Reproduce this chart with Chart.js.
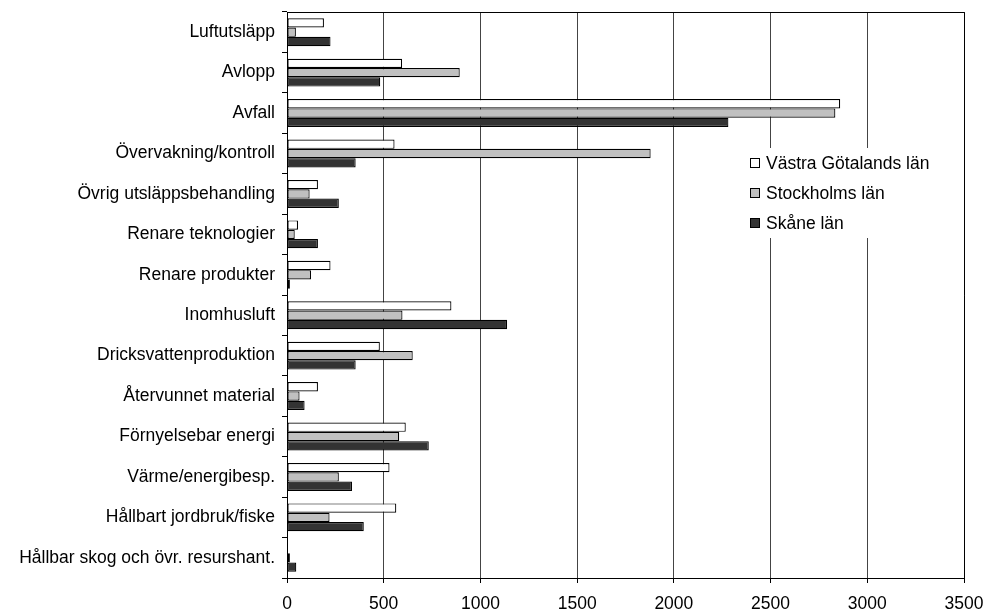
<!DOCTYPE html>
<html>
<head>
<meta charset="utf-8">
<script src="https://cdn.jsdelivr.net/npm/chart.js@4/dist/chart.umd.min.js"></script>
<style>
  html, body { margin: 0; padding: 0; background: #fff; overflow: hidden; }
  #wrap { width: 986px; height: 609px; position: relative; }
</style>
</head>
<body>
<div id="wrap"><canvas id="grafico" width="986" height="609"></canvas></div>
<script>
const kategorier = ["Luftutsläpp", "Avlopp", "Avfall", "Övervakning/kontroll", "Övrig utsläppsbehandling",
    "Renare teknologier", "Renare produkter", "Inomhusluft", "Dricksvattenproduktion", "Återvunnet material",
    "Förnyelsebar energi", "Värme/energibesp.", "Hållbart jordbruk/fiske", "Hållbar skog och övr. resurshant."];
const serieNamn = ["Västra Götalands län", "Stockholms län", "Skåne län"];
const vastraGotaland = [191, 595, 2860, 556, 160, 57, 225, 850, 480, 160, 614, 530, 565, 5];
const stockholm = [46, 893, 2835, 1880, 117, 40, 124, 597, 650, 65, 580, 268, 220, 15];
const skane = [225, 482, 2282, 355, 268, 160, 15, 1138, 355, 91, 733, 336, 397, 48];
const xTicks = [0, 500, 1000, 1500, 2000, 2500, 3000, 3500];

const farger = ["#ffffff", "#c0c0c0", "#333333"];
const typsnitt = "'Liberation Sans', Arial, sans-serif";
const textStorlek = 17.5;

// ram runt diagramytan + legend inne i ytan
const ramOchLegend = {
    id: "ramOchLegend",
    afterDraw(chart) {
        const ctx = chart.ctx;
        const a = chart.chartArea;
        ctx.save();
        ctx.strokeStyle = "#000";
        ctx.lineWidth = 1;
        ctx.beginPath();
        ctx.moveTo(Math.round(a.left) + 0.5, Math.round(a.top) + 0.5);
        ctx.lineTo(Math.round(a.right) + 0.5, Math.round(a.top) + 0.5);
        ctx.lineTo(Math.round(a.right) + 0.5, Math.round(a.bottom) + 0.5);
        ctx.stroke();

        // legend
        const lx = 750, ly = 163, steg = 30;
        ctx.fillStyle = "#fff";
        ctx.fillRect(740, 148, 210, 90);
        ctx.font = textStorlek + "px " + typsnitt;
        ctx.textBaseline = "middle";
        serieNamn.forEach((namn, i) => {
            const y = ly + i * steg;
            ctx.fillStyle = farger[i];
            ctx.fillRect(lx + 0.5, y - 4.5, 9, 9);
            ctx.strokeStyle = "#000";
            ctx.strokeRect(lx + 0.5, y - 4.5, 9, 9);
            ctx.fillStyle = "#000";
            ctx.fillText(namn, lx + 16, y + 1);
        });
        ctx.restore();
    }
};

const ctx = document.getElementById("grafico").getContext("2d");
new Chart(ctx, {
    type: "bar",
    data: {
        labels: kategorier,
        datasets: [
            { label: serieNamn[0], data: vastraGotaland, backgroundColor: farger[0] },
            { label: serieNamn[1], data: stockholm, backgroundColor: farger[1] },
            { label: serieNamn[2], data: skane, backgroundColor: farger[2] }
        ].map(d => Object.assign(d, {
            borderColor: "#000",
            borderWidth: 1.2,
            borderSkipped: false,
            categoryPercentage: 0.69,
            barPercentage: 1.0
        }))
    },
    options: {
        indexAxis: "y",
        responsive: false,
        animation: false,
        layout: { padding: { left: 0, right: 22, top: 12, bottom: 0 } },
        plugins: {
            legend: { display: false },
            tooltip: { enabled: false }
        },
        scales: {
            x: {
                min: 0,
                max: 3500,
                afterBuildTicks(scale) {
                    scale.ticks = xTicks.map(v => ({ value: v }));
                },
                afterFit(scale) {
                    scale.height = 31;
                    scale.paddingLeft = 0;
                    scale.paddingRight = 0;
                },
                grid: {
                    color: "#444",
                    lineWidth: 1,
                    tickLength: 5,
                    tickColor: "#000"
                },
                border: { color: "#000", width: 1 },
                ticks: {
                    color: "#000",
                    padding: 11,
                    maxRotation: 0,
                    callback: v => String(v),
                    font: { family: typsnitt, size: textStorlek }
                }
            },
            y: {
                afterFit(scale) {
                    scale.width = 287;
                    scale.paddingTop = 0;
                    scale.paddingBottom = 0;
                },
                grid: {
                    drawOnChartArea: false,
                    offset: true,
                    tickLength: 5,
                    tickColor: "#000"
                },
                border: { color: "#000", width: 1 },
                ticks: {
                    color: "#000",
                    padding: 7,
                    autoSkip: false,
                    font: { family: typsnitt, size: textStorlek }
                }
            }
        }
    },
    plugins: [ramOchLegend]
});
</script>
</body>
</html>
